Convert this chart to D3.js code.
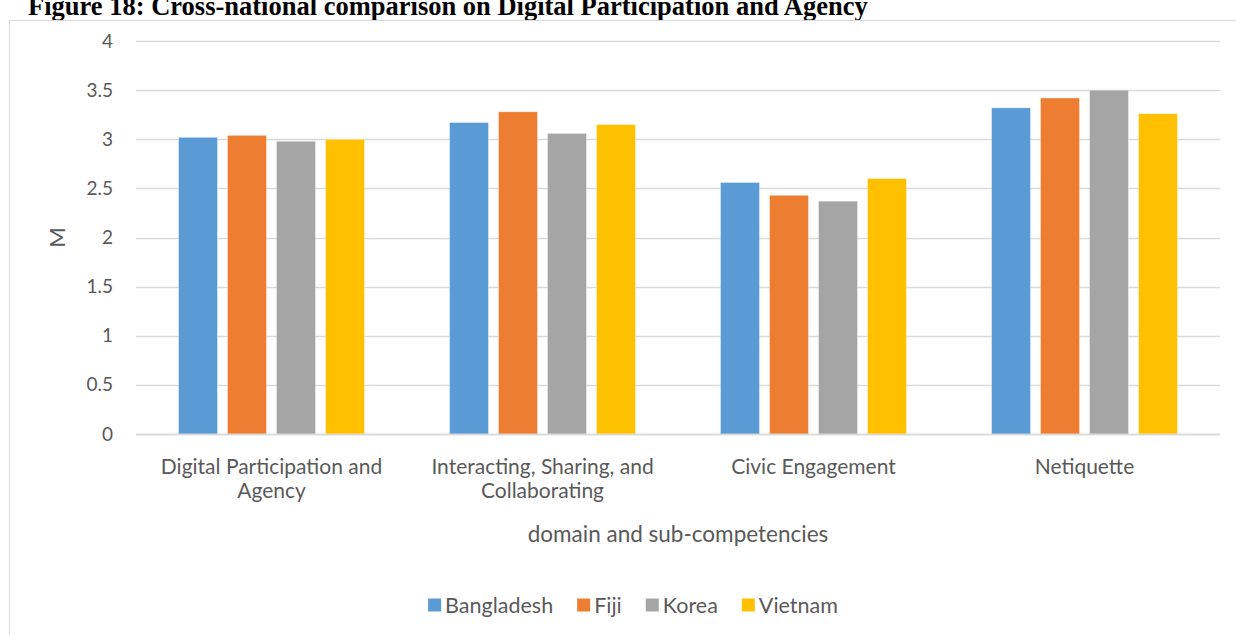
<!DOCTYPE html>
<html>
<head>
<meta charset="utf-8">
<title>Figure 18</title>
<script src="https://cdn.jsdelivr.net/npm/d3@7"></script>
<style>
html, body { margin: 0; background: #fff; }
svg { display: block; }
.tick text { fill: #595959; }
</style>
</head>
<body>
<svg width="1236" height="635"></svg>
<script>
// data
var domains = ["Digital Participation and Agency", "Interacting, Sharing, and Collaborating", "Civic Engagement", "Netiquette"];
var countries = ["Bangladesh", "Fiji", "Korea", "Vietnam"];
var bangladesh = [3.02, 3.17, 2.56, 3.32];
var fiji       = [3.04, 3.28, 2.43, 3.42];
var korea      = [2.98, 3.06, 2.37, 3.50];
var vietnam    = [3.00, 3.15, 2.60, 3.26];
var yTicks = [0, 0.5, 1, 1.5, 2, 2.5, 3, 3.5, 4];
var colors = ["#5B9BD5", "#ED7D31", "#A5A5A5", "#FFC000"];

var series = [bangladesh, fiji, korea, vietnam];
var font = "Lato, 'Open Sans', sans-serif";

var svg = d3.select("svg"),
    margin = {top: 41, right: 16, bottom: 201, left: 136},
    width = +svg.attr("width") - margin.left - margin.right,
    height = +svg.attr("height") - margin.top - margin.bottom;

// title (cut off at the top in the source picture)
svg.append("text")
    .attr("x", 28)
    .attr("y", 15)
    .style("font", "bold 26.5px 'Liberation Serif', serif")
    .attr("fill", "#000")
    .text("Figure 18: Cross-national comparison on Digital Participation and Agency");

// chart frame
svg.append("rect")
    .attr("x", 9.5).attr("y", 20.5)
    .attr("width", 1300).attr("height", 700)
    .attr("fill", "none")
    .attr("stroke", "#d9d9d9");

var g = svg.append("g").attr("transform", "translate(" + margin.left + "," + margin.top + ")");

var x0 = d3.scaleBand().domain(domains).range([0, width]).paddingInner(0.3137).paddingOuter(0.3137 / 2);
var x1 = d3.scaleBand().domain(countries).range([0, x0.bandwidth()]).paddingInner(0.204);
var y = d3.scaleLinear().domain([0, 4]).range([height, 0]);

// gridlines
g.append("g")
    .selectAll("line")
    .data(yTicks)
    .enter().append("line")
    .attr("x1", 0).attr("x2", width)
    .attr("y1", function(d) { return Math.round(y(d)) + 0.5; })
    .attr("y2", function(d) { return Math.round(y(d)) + 0.5; })
    .attr("stroke", "#d9d9d9")
    .attr("stroke-width", 1.3);

// y axis labels
var yAxis = g.append("g")
    .call(d3.axisLeft(y).tickValues(yTicks).tickSize(0).tickPadding(23).tickFormat(d3.format("")));
yAxis.select(".domain").remove();
yAxis.selectAll("text").style("font", "19px " + font);

// bars
var grp = g.selectAll(".grp")
    .data(domains)
    .enter().append("g")
    .attr("class", "grp")
    .attr("transform", function(d) { return "translate(" + x0(d) + ",0)"; });

grp.selectAll("rect")
    .data(function(d, i) { return countries.map(function(c, j) { return {c: c, v: series[j][i], j: j}; }); })
    .enter().append("rect")
    .attr("x", function(d) { return x1(d.c); })
    .attr("width", x1.bandwidth())
    .attr("y", function(d) { return y(d.v); })
    .attr("height", function(d) { return height - y(d.v); })
    .attr("fill", function(d) { return colors[d.j]; })
    .attr("stroke", "#fff")
    .attr("stroke-opacity", 0.5)
    .attr("stroke-width", 0.75);

// x axis baseline
g.append("line")
    .attr("x1", 0).attr("x2", width)
    .attr("y1", height + 0.5).attr("y2", height + 0.5)
    .attr("stroke", "#d9d9d9").attr("stroke-width", 1.3);

// category labels, wrapped like excel does
var step = x0.step();
var xAxis = g.append("g")
    .attr("transform", "translate(0," + height + ")")
    .call(d3.axisBottom(x0).tickSize(0).tickPadding(0));
xAxis.select(".domain").remove();
xAxis.selectAll("text").each(function(d) {
  var t = d3.select(this);
  t.text(null).attr("y", 0).attr("dy", null).style("font", "21px " + font);
  var words = d.split(" "), lines = [], cur = [];
  words.forEach(function(w) {
    cur.push(w);
    t.text(cur.join(" "));
    if (t.node().getComputedTextLength() > step - 20 && cur.length > 1) {
      cur.pop();
      lines.push(cur.join(" "));
      cur = [w];
    }
  });
  lines.push(cur.join(" "));
  t.text(null);
  lines.forEach(function(l, i) {
    t.append("tspan").attr("x", 0).attr("y", 40 + i * 24).text(l);
  });
});

// axis titles
g.append("text")
    .attr("x", width / 2)
    .attr("y", height + 108)
    .attr("text-anchor", "middle")
    .attr("fill", "#595959")
    .style("font", "22.5px " + font)
    .text("domain and sub-competencies");

g.append("text")
    .attr("transform", "translate(" + (-71) + "," + (height / 2) + ") rotate(-90)")
    .attr("text-anchor", "middle")
    .attr("fill", "#595959")
    .style("font", "22px " + font)
    .text("M");

// legend
var legend = svg.append("g").attr("transform", "translate(0,605)");
var items = legend.selectAll(".item")
    .data(countries)
    .enter().append("g")
    .attr("class", "item");
items.append("rect")
    .attr("width", 13).attr("height", 13)
    .attr("y", -6.5)
    .attr("fill", function(d, i) { return colors[i]; });
items.append("text")
    .attr("x", 17)
    .attr("dy", "0.35em")
    .attr("fill", "#595959")
    .style("font", "21.5px " + font)
    .text(function(d) { return d; });
var pos = 0, offsets = [];
items.each(function() {
  offsets.push(pos);
  pos += 17 + d3.select(this).select("text").node().getComputedTextLength() + 24;
});
pos -= 24;
var startX = 633 - pos / 2;
items.attr("transform", function(d, i) { return "translate(" + (startX + offsets[i]) + ",0)"; });
</script>
</body>
</html>
